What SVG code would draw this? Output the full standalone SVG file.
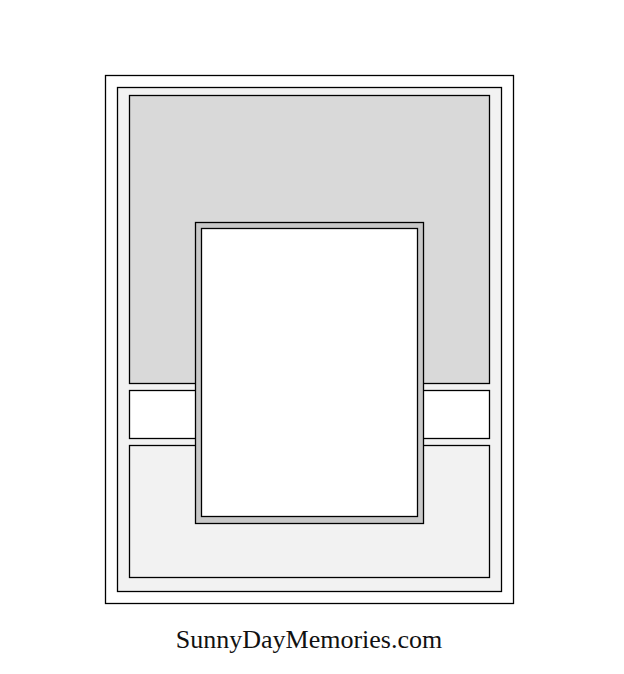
<svg xmlns="http://www.w3.org/2000/svg" width="624" height="674" viewBox="0 0 624 674">
<style>
.l{stroke:#000;stroke-width:1.3}
.t{font-family:"Liberation Serif",serif;font-size:26px;fill:#111}
</style>
<rect width="624" height="674" fill="#fff"/>
<g id="card"><rect class="l" x="105.5" y="75.5" width="408" height="528" fill="#fff"/></g>
<g id="mat"><rect class="l" x="117.5" y="87.5" width="384" height="504" fill="#f2f2f2"/></g>
<g id="top-panel"><rect class="l" x="129.5" y="95.5" width="360" height="288" fill="#d9d9d9"/></g>
<g id="strip"><rect class="l" x="129.5" y="390.5" width="360" height="48" fill="#fff"/></g>
<g id="bottom-panel"><rect class="l" x="129.5" y="445.5" width="360" height="132" fill="#f2f2f2"/></g>
<g id="photo-mat"><rect class="l" x="195.5" y="222.5" width="228" height="301" fill="#c8c8c8"/></g>
<g id="photo"><rect class="l" x="201.5" y="228.5" width="216" height="288" fill="#fff"/></g>
<g id="connectors"></g>
<text class="t" x="309" y="648" text-anchor="middle">SunnyDayMemories.com</text>
</svg>
